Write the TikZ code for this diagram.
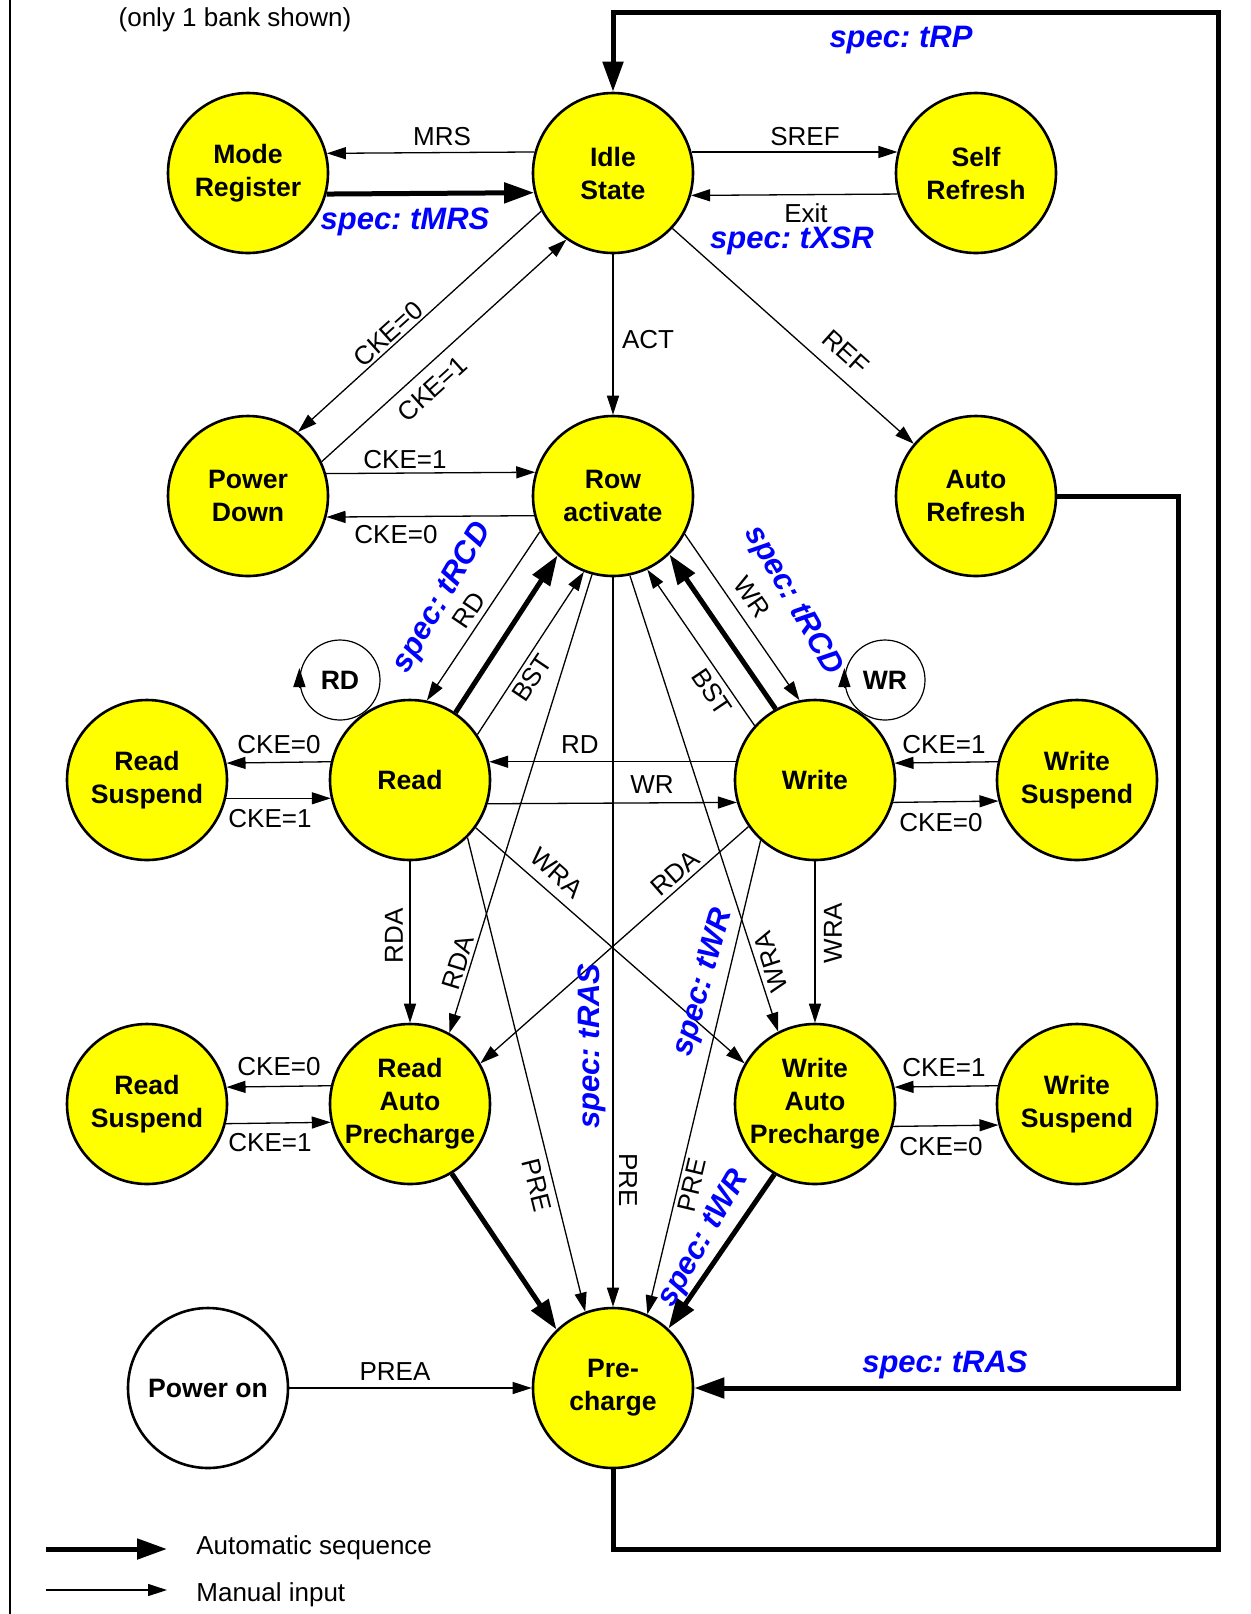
\documentclass[tikz,border=0pt]{standalone}
\usepackage{fontspec}
\setmainfont{Liberation Sans}
\usetikzlibrary{arrows.meta,calc}
\definecolor{specblue}{RGB}{0,0,255}
\definecolor{stateyellow}{RGB}{255,255,0}

\begin{document}
\frenchspacing
\begin{tikzpicture}[x=0.5pt,y=-0.5pt,
  state/.style={circle,draw,line width=1.3pt,fill=stateyellow,minimum size=80pt,
    inner sep=0pt,align=center,font=\bfseries\fontsize{13.3}{16.5}\selectfont},
  offstate/.style={state,fill=white},
  manin/.style={line width=0.65pt,-{Triangle[length=9.5pt,width=6pt]}},
  autoseq/.style={line width=2.5pt,-{Triangle[length=15pt,width=10pt]}},
  lbl/.style={font=\fontsize{13}{15}\selectfont,inner sep=1pt},
  spec/.style={font=\bfseries\itshape\fontsize{15.5}{18}\selectfont,text=specblue,inner sep=1pt},
  loopnode/.style={circle,draw,line width=0.6pt,minimum size=40pt,inner sep=0pt,
    font=\bfseries\fontsize{13.3}{16}\selectfont},
]
\useasboundingbox (0,0) rectangle (1250,1614);

% frame line on the left
\draw[line width=0.8pt] (10,0) -- (10,1614);

\node[lbl] (t-bank) at (235,20) {(only 1 bank shown)};

% self loops of Read and Write
\node[loopnode] (rdloop) at (340,680) {RD};
\node[loopnode] (wrloop) at (885,680) {WR};
\draw[manin] ($(rdloop.west)+(0,8)$) -- ($(rdloop.west)+(0,-12)$);
\draw[manin] ($(wrloop.west)+(0,8)$) -- ($(wrloop.west)+(0,-12)$);

% states
\node[state] (mr)  at (248,173)  {Mode\\Register};
\node[state] (is)  at (613,173)  {Idle\\State};
\node[state] (sr)  at (976,173)  {Self\\Refresh};
\node[state] (pd)  at (248,496)  {Power\\Down};
\node[state] (ra)  at (613,496)  {Row\\activate};
\node[state] (ar)  at (976,496)  {Auto\\Refresh};
\node[state] (rs1) at (147,780)  {Read\\Suspend};
\node[state] (rd)  at (410,780)  {Read};
\node[state] (wr)  at (815,780)  {Write};
\node[state] (ws1) at (1077,780) {Write\\Suspend};
\node[state] (rs2) at (147,1104) {Read\\Suspend};
\node[state] (rap) at (410,1104) {Read\\Auto\\Precharge};
\node[state] (wap) at (815,1104) {Write\\Auto\\Precharge};
\node[state] (ws2) at (1077,1104) {Write\\Suspend};
\node[offstate] (po) at (208,1388) {Power on};
\node[state] (pc)  at (613,1388) {Pre-\\charge};

% routing corners of the long automatic paths
\coordinate (arturn) at (1178,900);
\coordinate (lb) at (1218,1549);
\coordinate (rt) at (1218,12);

% top row
\draw[manin]   (is.165.5) -- (mr.14.5);
\draw[autoseq] (mr.345.5) -- (is.194.5);
\draw[manin]   (is.15) -- (sr.165);
\draw[manin]   (sr.195.5) -- (is.344.5);
\draw[manin]   (is.208.4) -- (pd.52.4);
\draw[manin]   (pd.25) -- (is.235.7);
\draw[manin]   (is.270) -- (ra.90);
\draw[manin]   (is.317) -- (ar.140);

% power down / row activate
\draw[manin] (pd.16.7) -- (ra.163.3);
\draw[manin] (ra.194.5) -- (pd.345.5);

% row activate to read / write side
\draw[manin]   (ra.206) -- (rd.78);
\draw[autoseq] (rd.56.5) -- (ra.227.4);
\draw[manin]   (rd.34) -- (ra.249.6);
\draw[manin]   (ra.255) -- (rap.61.6);
\draw[manin]   (ra.270) -- (pc.90);
\draw[manin]   (ra.332.2) -- (wr.101);
\draw[autoseq] (wr.119.7) -- (ra.314.5);
\draw[manin]   (wr.138) -- (ra.295.7);
\draw[manin]   (ra.282.4) -- (wap.117.8);

% read / write row
\draw[manin] (rd.167.7) -- (rs1.12.3);
\draw[manin] (rs1.347) -- (rd.193);
\draw[manin] (wr.167) -- (rd.13);
\draw[manin] (rd.343.3) -- (wr.196.7);
\draw[manin] (ws1.167.7) -- (wr.12.3);
\draw[manin] (wr.344.8) -- (ws1.195.2);

% read / write to auto precharge and precharge
\draw[manin] (rd.270) -- (rap.90);
\draw[manin] (rd.324.8) -- (wap.150);
\draw[manin] (rd.315) -- (pc.110.6);
\draw[manin] (wr.215.6) -- (rap.30.3);
\draw[manin] (wr.270) -- (wap.90);
\draw[manin] (wr.228.4) -- (pc.65.9);

% auto precharge row
\draw[manin] (rap.167.7) -- (rs2.12.3);
\draw[manin] (rs2.346.3) -- (rap.193.7);
\draw[manin] (ws2.167.7) -- (wap.12.3);
\draw[manin] (wap.344.8) -- (ws2.195.2);
\draw[autoseq] (rap.301.3) -- (pc.134);
\draw[autoseq] (wap.240.5) -- (pc.47);

% bottom
\draw[manin] (po) -- (pc);
\draw[autoseq] (ar.east) -| (arturn) |- (pc.east);
\draw[autoseq] (pc.south) |- (lb) -- (rt) -| (is.north);

% labels
\node[lbl] (l-mrs) at (442,137) {MRS};
\node[spec] (s-tmrs) at (405,222) {spec: tMRS};
\node[lbl] (l-sref) at (805,137) {SREF};
\node[lbl] (l-exit) at (806,213) {Exit};
\node[spec] (s-txsr) at (792,241) {spec: tXSR};
\node[spec] (s-trp) at (901,40) {spec: tRP};
\node[lbl] (l-act) at (648,340) {ACT};
\node[lbl,rotate=-42] (l-ref) at (846,352) {REF};
\node[lbl,rotate=42] (l-pd0) at (388,334) {CKE=0};
\node[lbl,rotate=42] (l-pd1) at (432,389) {CKE=1};
\node[lbl] (l-ra1) at (405,460) {CKE=1};
\node[lbl] (l-ra0) at (396,535) {CKE=0};
\node[lbl,rotate=56] (l-rd) at (469,610) {RD};
\node[spec,rotate=60] (s-trcd1) at (443,598) {spec: tRCD};
\node[lbl,rotate=56] (l-bst1) at (532,678) {BST};
\node[lbl,rotate=73] (l-rda1) at (458,963) {RDA};
\node[lbl,rotate=-90] (l-pre0) at (628,1180) {PRE};
\node[spec,rotate=90] (s-tras1) at (592,1046) {spec: tRAS};
\node[lbl,rotate=-55.5] (l-wr) at (752,597) {WR};
\node[spec,rotate=-60] (s-trcd2) at (793,601) {spec: tRCD};
\node[lbl,rotate=-56] (l-bst2) at (712,692) {BST};
\node[lbl,rotate=108] (l-wra1) at (771,962) {WRA};
\node[lbl] (l-rs0) at (279,745) {CKE=0};
\node[lbl] (l-rs1) at (270,819) {CKE=1};
\node[lbl] (l-rdh) at (580,745) {RD};
\node[lbl] (l-wrh) at (652,785) {WR};
\node[lbl] (l-ws1) at (944,745) {CKE=1};
\node[lbl] (l-ws0) at (941,823) {CKE=0};
\node[lbl,rotate=90] (l-rda2) at (394,936) {RDA};
\node[lbl,rotate=-41.5] (l-wra2) at (557,873) {WRA};
\node[lbl,rotate=41.3] (l-rda3) at (675,873) {RDA};
\node[lbl,rotate=90] (l-wra3) at (833,933) {WRA};
\node[lbl,rotate=-76] (l-pre1) at (537,1185) {PRE};
\node[lbl,rotate=76.5] (l-pre2) at (692,1185) {PRE};
\node[spec,rotate=74] (s-twr1) at (704,983) {spec: tWR};
\node[spec,rotate=60] (s-twr2) at (704,1239) {spec: tWR};
\node[lbl] (l-rs20) at (279,1067) {CKE=0};
\node[lbl] (l-rs21) at (270,1143) {CKE=1};
\node[lbl] (l-ws21) at (944,1068) {CKE=1};
\node[lbl] (l-ws20) at (941,1147) {CKE=0};
\node[lbl] (l-prea) at (395,1372) {PREA};
\node[spec] (s-tras2) at (945,1365) {spec: tRAS};

% legend
\coordinate (k1a) at (46,1549);
\coordinate (k1b) at (167,1549);
\draw[autoseq] (k1a) -- (k1b);
\node[lbl,anchor=west] (k1t) at (194,1548) {Automatic sequence};
\coordinate (k2a) at (46,1590);
\coordinate (k2b) at (167,1590);
\draw[manin] (k2a) -- (k2b);
\node[lbl,anchor=west] (k2t) at (194,1595) {Manual input};
\end{tikzpicture}
\end{document}
